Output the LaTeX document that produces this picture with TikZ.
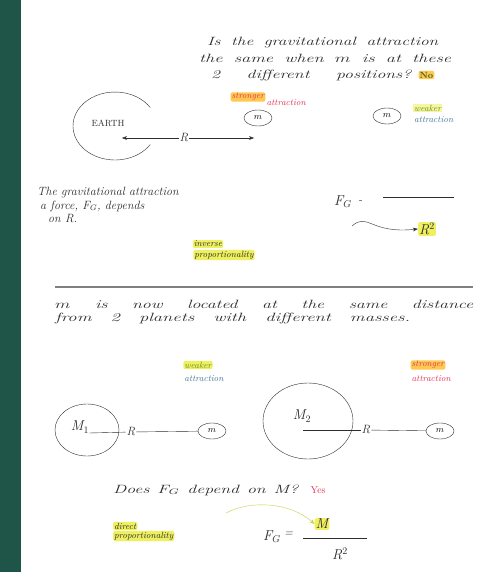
\documentclass[tikz,border=0pt]{standalone}
\usepackage{amsmath,amsfonts,amssymb}
\usepackage{graphicx}
\usepackage[dvipsnames]{xcolor}
\usepackage{tikz}
\usetikzlibrary{positioning,shapes.geometric,arrows.meta}
\definecolor{bargreen}{RGB}{31,84,72}
\definecolor{pencil}{RGB}{45,45,45}
\definecolor{hlyellow}{RGB}{238,240,95}
\definecolor{hlorange}{RGB}{255,200,80}
\definecolor{inkred}{RGB}{226,52,88}
\definecolor{inkblue}{RGB}{70,120,150}
\definecolor{inkgreen}{RGB}{110,145,40}
\newcommand{\wline}[3]{\resizebox{#1}{\height}{\makebox[#2][s]{#3}}}

\begin{document}
\begin{tikzpicture}[x=1pt, y=-1pt, node distance=13pt,
  hand/.style={font=\large\itshape, text=pencil, inner sep=1pt},
  tiny/.style={font=\itshape\small, inner sep=1pt},
  hly/.style={fill=hlyellow, rounded corners=2pt},
  hlo/.style={fill=hlorange, rounded corners=2pt},
  smallm/.style={ellipse, draw=pencil, thin, font=\itshape\small, inner sep=1pt, minimum width=28pt, minimum height=16pt},
  planet/.style={ellipse, draw=pencil, thin}]
\useasboundingbox (0,0) rectangle (488,572);
\fill[white] (0,0) rectangle (488,572);
\fill[bargreen] (0,0) rectangle (21,572);

\node[hand, anchor=west] (q1) at (206,43) {\wline{231pt}{160pt}{Is the gravitational attraction}};
\node[hand, anchor=west] (q2) at ([xshift=-8pt, yshift=-15pt]q1.west) {\wline{252pt}{165pt}{the same when $m$ is at these}};
\node[hand, anchor=west] (q3) at ([xshift=12pt, yshift=-17pt]q2.west) {\wline{200pt}{135pt}{2 different positions?}};
\node[tiny, hlo, text=inkgreen!70!black, right=6pt of q3] (no) {\bfseries\upshape No};

\node[tiny, hlo, text=inkred] (strong1) at (248,97) {stronger};
\node[tiny, text=inkred, anchor=west] (attr1) at ([yshift=-6pt]strong1.east) {attraction};
\node[smallm] (m1) at (258,118) {$m$};
\node[smallm] (m2) at (387,116) {$m$};
\node[tiny, fill=hlyellow!60, text=inkgreen, anchor=west] (weak1) at (413,108) {weaker};
\node[tiny, text=inkblue, anchor=west] (attr2) at ([yshift=-12pt]weak1.west) {attraction};

\coordinate (earth) at (115,126);
\draw[pencil, thin] (earth) ++(33:42 and 34) arc[start angle=33, end angle=327, x radius=42, y radius=34];
\node[font=\small\upshape, text=pencil] (earthlbl) at (108,123) {EARTH};
\node[hand] (R0) at (184,138) {R};
\coordinate (toearth) at (122,138);
\coordinate (tomass) at (254,138);
\draw[pencil, thin, -{Stealth[length=5pt]}] (R0) -- (toearth);
\draw[pencil, thin, -{Stealth[length=5pt]}] (R0) -- (tomass);

\node[hand, anchor=west] (t1) at (36,193) {The gravitational attraction};
\node[hand, anchor=west] (t2) at ([xshift=3pt, yshift=-13pt]t1.west) {a force, F$_G$, depends};
\node[hand, anchor=west] (t3) at ([xshift=8pt, yshift=-13pt]t2.west) {on R.};
\node[hand, font=\Large\itshape] (FG1) at (343,202) {F$_G$};
\node[hand, right=4pt of FG1] (eq1) {-};
\coordinate (bar1l) at (383,197);
\coordinate (bar1r) at (454,197);
\draw[pencil, thin] (bar1l) -- (bar1r);
\node[hand, hly, font=\Large\itshape] (R2a) at (427,229) {R$^2$};
\node[tiny, hly, text=pencil] (inv) at (208,244) {inverse};
\node[tiny, hly, text=pencil, below of=inv, node distance=11pt, xshift=16pt] (prop1) {proportionality};
\draw[pencil, thin, -{Stealth[length=5pt]}] (352,226) .. controls (368,212) and (370,234) .. (R2a.west);

\coordinate (divl) at (55,287);
\coordinate (divr) at (473,287);
\draw[gray, line width=1.4pt] (divl) -- (divr);

\node[hand, anchor=west] (s1) at (54,304) {\wline{418pt}{280pt}{$m$ is now located at the same distance}};
\node[hand, anchor=west] (s2) at ([yshift=-14pt]s1.west) {\wline{355pt}{230pt}{from 2 planets with different masses.}};

\node[planet, minimum width=64pt, minimum height=52pt] (P1) at (87,430) {};
\node[hand, font=\Large\itshape] (M1) at (80,427) {M$_1$};
\node[hand] (R1) at (131,432) {R};
\node[smallm] (m3) at (212,431) {$m$};
\draw[pencil, thin] ([xshift=2pt, yshift=-3pt]P1.center) -- (R1);
\draw[pencil, thin] (R1) -- (m3);
\node[tiny, hly, text=inkgreen] (weak2) at (198,365) {weaker};
\node[tiny, text=inkblue, anchor=west] (attr3) at ([yshift=-14pt]weak2.west) {attraction};

\node[planet, minimum width=90pt, minimum height=76pt] (P2) at (308,421) {};
\node[hand, font=\Large\itshape] (M2) at (302,416) {M$_2$};
\node[hand] (R3) at (366,430) {R};
\node[smallm] (m4) at (440,431) {$m$};
\draw[pencil, thin] ([xshift=-5pt, yshift=-9pt]P2.center) -- (R3);
\draw[pencil, thin] (R3) -- (m4);
\node[tiny, hlo, text=inkred] (strong2) at (428,365) {stronger};
\node[tiny, text=inkred, anchor=west] (attr4) at ([yshift=-14pt]strong2.west) {attraction};

\node[hand, anchor=west] (d1) at (112,490) {\wline{185pt}{125pt}{Does F$_G$ depend on M?}};
\node[tiny, text=inkred, right=10pt of d1, font=\upshape] (yes) {Yes};
\node[tiny, hly, text=pencil, anchor=west] (dir) at (113,526) {direct};
\node[tiny, hly, text=pencil, anchor=west] (prop2) at ([yshift=-10pt]dir.west) {proportionality};
\node[hand, font=\Large\itshape] (FG2) at (272,537) {F$_G$};
\node[hand, right=1pt of FG2, yshift=3pt] (eq2) {=};
\node[hand, hly, font=\Large\itshape] (Mtop) at (322,524) {M};
\coordinate (bar2l) at (303,538);
\coordinate (bar2r) at (367,538);
\draw[pencil, thin] (bar2l) -- (bar2r);
\node[hand, font=\Large\itshape] (R2b) at (340,554) {R$^2$};
\draw[hlyellow!70!olive, thin, -{Stealth[length=5pt]}] (226,513) .. controls (250,500) and (290,502) .. (Mtop.west);
\end{tikzpicture}
\end{document}
